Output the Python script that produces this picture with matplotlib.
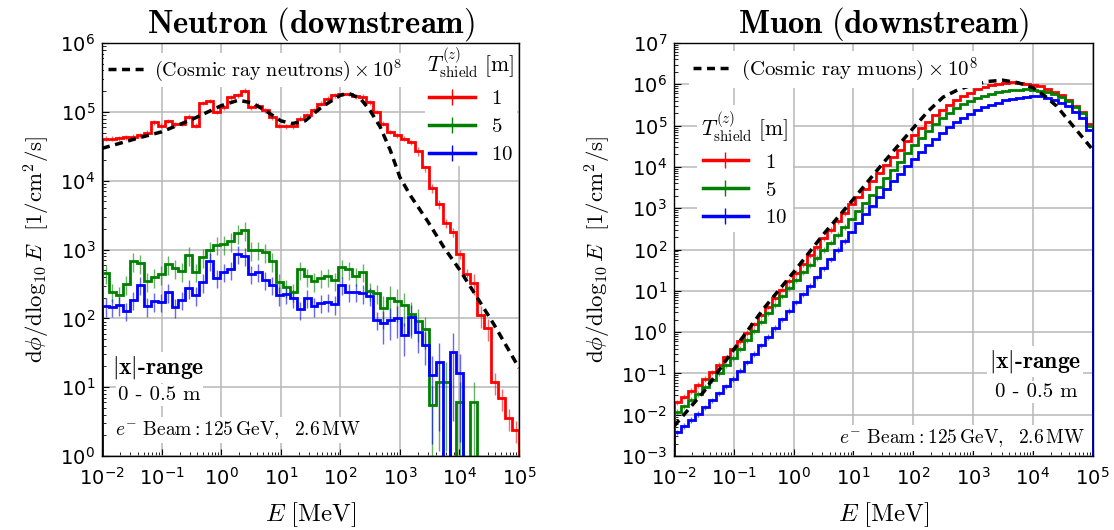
import numpy as np
import matplotlib
matplotlib.use("Agg")
import matplotlib.pyplot as plt
from matplotlib.lines import Line2D
from matplotlib.font_manager import FontProperties

# ---------------- data (log10 of flux per bin) ----------------
bin_edges = np.logspace(-2, 5, 61)   # E [MeV], 60 log bins

# neutron, T_shield = 1, 5, 10 m  (None = empty bin)
n_red_log = [4.61, 4.61, 4.62, 4.63, 4.64, 4.66, 4.70, 4.85, 4.80, 4.87,
             4.82, 4.83, 4.93, 4.80, 5.13, 5.16, 5.00, 5.07, 5.21, 5.24,
             5.31, 5.07, 5.09, 5.02, 4.92, 4.80, 4.79, 4.79, 4.90, 4.95,
             5.02, 5.12, 5.19, 5.24, 5.26, 5.26, 5.23, 5.22, 5.14, 5.00,
             4.83, 4.71, 4.66, 4.61, 4.56, 4.43, 4.20, 3.89, 3.66, 3.39,
             3.25, 2.93, 2.65, 2.52, 2.05, 1.86, 1.08, 0.84, 0.55, 0.38]
n_green_log = [2.66, 2.39, 2.34, 2.50, 2.83, 2.80, 2.54, 2.60, 2.64, 2.79,
               2.73, 2.69, 2.92, 2.68, 2.89, 3.00, 3.07, 3.08, 3.12, 3.24,
               3.28, 2.99, 3.00, 2.96, 2.83, 2.53, 2.45, 2.39, 2.71, 2.61,
               2.54, 2.59, 2.61, 2.55, 2.74, 2.71, 2.62, 2.68, 2.40, 2.37,
               2.15, 2.30, 2.25, 2.19, 2.06, 1.96, 1.85, 0.74, 1.08, 1.08,
               None, 0.79, None, 0.79, None, None, None, None, None, None]
n_blue_log = [2.18, 2.17, 2.19, 2.11, 2.27, 2.49, 2.18, 2.25, 2.24, 2.38,
              2.16, 2.27, 2.44, 2.34, 2.53, 2.84, 2.59, 2.68, 2.71, 2.94,
              2.91, 2.65, 2.68, 2.56, 2.49, 2.34, 2.36, 2.30, 2.13, 2.30,
              2.18, 2.23, 2.24, 2.21, 2.49, 2.39, 2.39, 2.37, 2.33, 1.98,
              1.93, 1.98, 2.01, 1.76, 2.02, 1.80, 1.62, 1.18, 1.37, None,
              1.51, 1.20, None, None, None, None, None, None, None, None]

# muon, T_shield = 1, 5, 10 m
m_red_log = [-1.70, -1.56, -1.42, -1.28, -1.13, -0.97, -0.79, -0.61, -0.42, -0.22,
             -0.02, 0.19, 0.41, 0.62, 0.83, 1.03, 1.24, 1.44, 1.65, 1.86,
             2.06, 2.27, 2.48, 2.68, 2.89, 3.10, 3.28, 3.47, 3.66, 3.85,
             4.04, 4.23, 4.42, 4.62, 4.78, 4.95, 5.10, 5.25, 5.38, 5.50,
             5.61, 5.71, 5.80, 5.88, 5.94, 5.99, 6.02, 6.04, 6.05, 6.04,
             6.02, 5.99, 5.95, 5.89, 5.82, 5.73, 5.62, 5.48, 5.32, 5.03]
m_green_log = [-1.93, -1.79, -1.64, -1.49, -1.32, -1.15, -0.98, -0.80, -0.62, -0.40,
               -0.19, 0.03, 0.25, 0.46, 0.66, 0.87, 1.07, 1.27, 1.45, 1.63,
               1.80, 1.99, 2.17, 2.36, 2.55, 2.73, 2.93, 3.13, 3.33, 3.52,
               3.72, 3.93, 4.13, 4.33, 4.52, 4.70, 4.88, 5.04, 5.19, 5.31,
               5.42, 5.52, 5.60, 5.67, 5.72, 5.77, 5.81, 5.84, 5.86, 5.87,
               5.88, 5.87, 5.85, 5.81, 5.77, 5.70, 5.60, 5.46, 5.30, 5.00]
m_blue_log = [-2.42, -2.27, -2.12, -1.98, -1.82, -1.65, -1.48, -1.31, -1.13, -0.93,
              -0.73, -0.52, -0.32, -0.11, 0.10, 0.31, 0.52, 0.72, 0.92, 1.12,
              1.33, 1.55, 1.77, 1.99, 2.21, 2.43, 2.64, 2.85, 3.06, 3.27,
              3.47, 3.66, 3.84, 4.02, 4.19, 4.36, 4.52, 4.68, 4.83, 4.96,
              5.08, 5.19, 5.29, 5.37, 5.44, 5.50, 5.56, 5.61, 5.65, 5.68,
              5.70, 5.72, 5.71, 5.68, 5.63, 5.56, 5.47, 5.34, 5.18, 4.90]

# relative statistical errors
n_red_err = [0.08] * 45 + [0.15] * 8 + [0.35] * 7
n_green_err = [0.3] * 40 + [0.5] * 7 + [0.9] * 13
n_blue_err = [0.3] * 40 + [0.5] * 7 + [0.9] * 13
m_red_err = [0.15] * 25 + [0.05] * 35
m_green_err = [0.15] * 25 + [0.05] * 35
m_blue_err = [0.15] * 25 + [0.05] * 35

# cosmic ray spectra x 1e8 (log10 E, log10 flux)
cos_n_logE = [-2.0, -1.39, -1.0, -0.49, 0.0, 0.29, 0.52, 0.74, 1.0, 1.19, 1.41,
              1.66, 1.78, 2.0, 2.14, 2.34, 2.5, 2.67, 2.84, 3.0, 3.18, 3.46,
              3.74, 4.0, 4.3, 4.58, 5.0]
cos_n_logF = [4.47, 4.62, 4.71, 4.89, 5.09, 5.17, 5.13, 5.02, 4.87, 4.83, 4.87,
              5.05, 5.12, 5.24, 5.27, 5.19, 5.02, 4.78, 4.44, 4.05, 3.78, 3.42,
              3.03, 2.71, 2.30, 1.91, 1.28]
cos_m_logE = [-2.0, -1.5, -1.0, -0.5, 0.0, 0.5, 1.0, 1.5, 2.0, 2.25, 2.5, 2.75,
              3.0, 3.25, 3.5, 3.75, 4.0, 4.2, 4.4, 4.68, 5.0]
cos_m_logF = [-2.28, -1.44, -0.42, 0.57, 1.45, 2.37, 3.22, 4.10, 4.94, 5.35, 5.69,
              5.87, 5.99, 6.07, 6.10, 6.04, 5.92, 5.72, 5.47, 4.98, 4.42]

thick_labels = ['1', '5', '10']
colors = ['#ff0000', '#008000', '#0000ff']

# ---------------------------------------------------------------------------------
def to_lin(lst):
    return np.array([0.0 if v is None else 10.0 ** v for v in lst])

centers = np.sqrt(bin_edges[:-1] * bin_edges[1:])

cm = dict(math_fontfamily='cm')
leg_prop = FontProperties(family='cmr10', size=15, math_fontfamily='cm')
title_prop = FontProperties(family='cmr10', size=15.5, math_fontfamily='cm')

fig = plt.figure(figsize=(11.14, 5.30), dpi=100)
axL = fig.add_axes([0.0916, 0.1396, 0.3743, 0.7792])
axR = fig.add_axes([0.605, 0.1396, 0.3758, 0.7792])

leg_kw = dict(frameon=True, framealpha=1, edgecolor='none', fancybox=False)


def draw_panel(ax, series, errs, cos_E, cos_F, ylim, cos_label, title, anchor, dsize):
    ax.set_xscale('log')
    ax.set_yscale('log')
    ax.grid(True, which='major', color='#b8b8b8', lw=1.1)
    ax.set_axisbelow(True)
    for s in ax.spines.values():
        s.set_linewidth(1.0)
        s.set_zorder(6)
    for vals_log, rel, c in zip(series, errs, colors):
        v = to_lin(vals_log)
        ax.stairs(v, bin_edges, color=c, lw=2.0, zorder=3)
        m = v > 0
        ax.errorbar(centers[m], v[m], yerr=v[m] * np.array(rel)[m], fmt='none',
                    ecolor=c, elinewidth=1.0, alpha=0.6, zorder=2)
    ax.plot(10.0 ** np.array(cos_E), 10.0 ** np.array(cos_F), color='k',
            lw=2.5, ls=(0, (2.3, 1.6)), zorder=4)
    ax.set_xlim(1e-2, 1e5)
    ax.set_ylim(*ylim)
    ax.set_xticks(10.0 ** np.arange(-2, 6))
    ax.set_yticks(10.0 ** np.arange(np.log10(ylim[0]), np.log10(ylim[1]) + 1))
    ax.xaxis.set_minor_locator(matplotlib.ticker.LogLocator(base=10, subs=np.arange(2, 10), numticks=20))
    ax.yaxis.set_minor_locator(matplotlib.ticker.LogLocator(base=10, subs=np.arange(2, 10), numticks=20))
    ax.xaxis.set_minor_formatter(matplotlib.ticker.NullFormatter())
    ax.yaxis.set_minor_formatter(matplotlib.ticker.NullFormatter())
    ax.tick_params(which='both', direction='in', labelsize=14)
    ax.tick_params(axis='x', which='both', pad=8)
    ax.tick_params(axis='y', which='both', pad=5)
    ax.tick_params(which='major', length=5)
    ax.tick_params(which='minor', length=3)
    ax.set_xlabel(r'$E\ [\mathrm{MeV}]$', fontsize=18, labelpad=8, **cm)
    ax.set_ylabel(r'$\mathrm{d}\phi/\mathrm{d}\log_{10}E\ \ [1/\mathrm{cm}^2/\mathrm{s}]$',
                  fontsize=16.5, labelpad=6, **cm)
    ax.set_title(title, fontsize=23.5, pad=7, **cm)
    dash = Line2D([], [], color='k', lw=2.5, ls=(0, (2.3, 1.6)))
    dprop = FontProperties(family='cmr10', size=dsize, math_fontfamily='cm')
    leg1 = ax.legend([dash], [cos_label], loc='upper left', bbox_to_anchor=anchor,
                     prop=dprop, handlelength=1.8, handletextpad=0.5,
                     borderaxespad=0.0, borderpad=0.2, **leg_kw)
    ax.add_artist(leg1)
    hs = [Line2D([], [], color=c, lw=2.5, marker='|', markersize=11, mew=1)
          for c in colors]
    return hs


hs = draw_panel(axL, [n_red_log, n_green_log, n_blue_log],
                [n_red_err, n_green_err, n_blue_err], cos_n_logE, cos_n_logF,
                (1e0, 1e6), r'$\mathrm{(Cosmic\ ray\ neutrons)}\times10^{8}$',
                r'$\mathbf{Neutron\ (downstream)}$', (0.005, 0.975), 14.5)
legL = axL.legend(hs, [r'$' + s + '$' for s in thick_labels], loc='upper left',
                  bbox_to_anchor=(0.775, 0.998),
                  prop=leg_prop, title=r'$T^{(z)}_{\mathrm{shield}}\ [\mathrm{m}]$',
                  title_fontproperties=title_prop, handlelength=2.2,
                  borderaxespad=0.0, borderpad=0.1, labelspacing=0.45, **leg_kw)

hs = draw_panel(axR, [m_red_log, m_green_log, m_blue_log],
                [m_red_err, m_green_err, m_blue_err], cos_m_logE, cos_m_logF,
                (1e-3, 1e7), r'$\mathrm{(Cosmic\ ray\ muons)}\times10^{8}$',
                r'$\mathbf{Muon\ (downstream)}$', (0.035, 0.98), 15)
legR = axR.legend(hs, [r'$' + s + '$' for s in thick_labels], loc='upper left',
                  bbox_to_anchor=(0.055, 0.85),
                  prop=leg_prop, title=r'$T^{(z)}_{\mathrm{shield}}\ [\mathrm{m}]$',
                  title_fontproperties=title_prop, handlelength=2.2,
                  borderaxespad=0.0, borderpad=0.2, labelspacing=0.45, **leg_kw)

box = dict(facecolor='white', edgecolor='none', pad=1.5)
beam = r'$e^{-}\ \mathrm{Beam} : 125\,\mathrm{GeV},\ \ 2.6\,\mathrm{MW}$'

axL.text(0.134, 0.215, r'$|\mathbf{x}|$-range', transform=axL.transAxes, ha='center',
         va='center', fontsize=17, family='cmb10', bbox=box, **cm)
axL.text(0.138, 0.148, '0 - 0.5 m', transform=axL.transAxes, ha='center',
         va='center', fontsize=15, family='cmr10', bbox=box)
axL.text(0.03, 0.063, beam, transform=axL.transAxes, ha='left', va='center',
         fontsize=14, bbox=box, **cm)

axR.text(0.862, 0.228, r'$|\mathbf{x}|$-range', transform=axR.transAxes, ha='center',
         va='center', fontsize=17, family='cmb10', bbox=box, **cm)
axR.text(0.866, 0.155, '0 - 0.5 m', transform=axR.transAxes, ha='center',
         va='center', fontsize=15, family='cmr10', bbox=box)
axR.text(0.981, 0.044, beam, transform=axR.transAxes, ha='right', va='center',
         fontsize=14, bbox=box, **cm)

fig.savefig('out.png', dpi=100)
